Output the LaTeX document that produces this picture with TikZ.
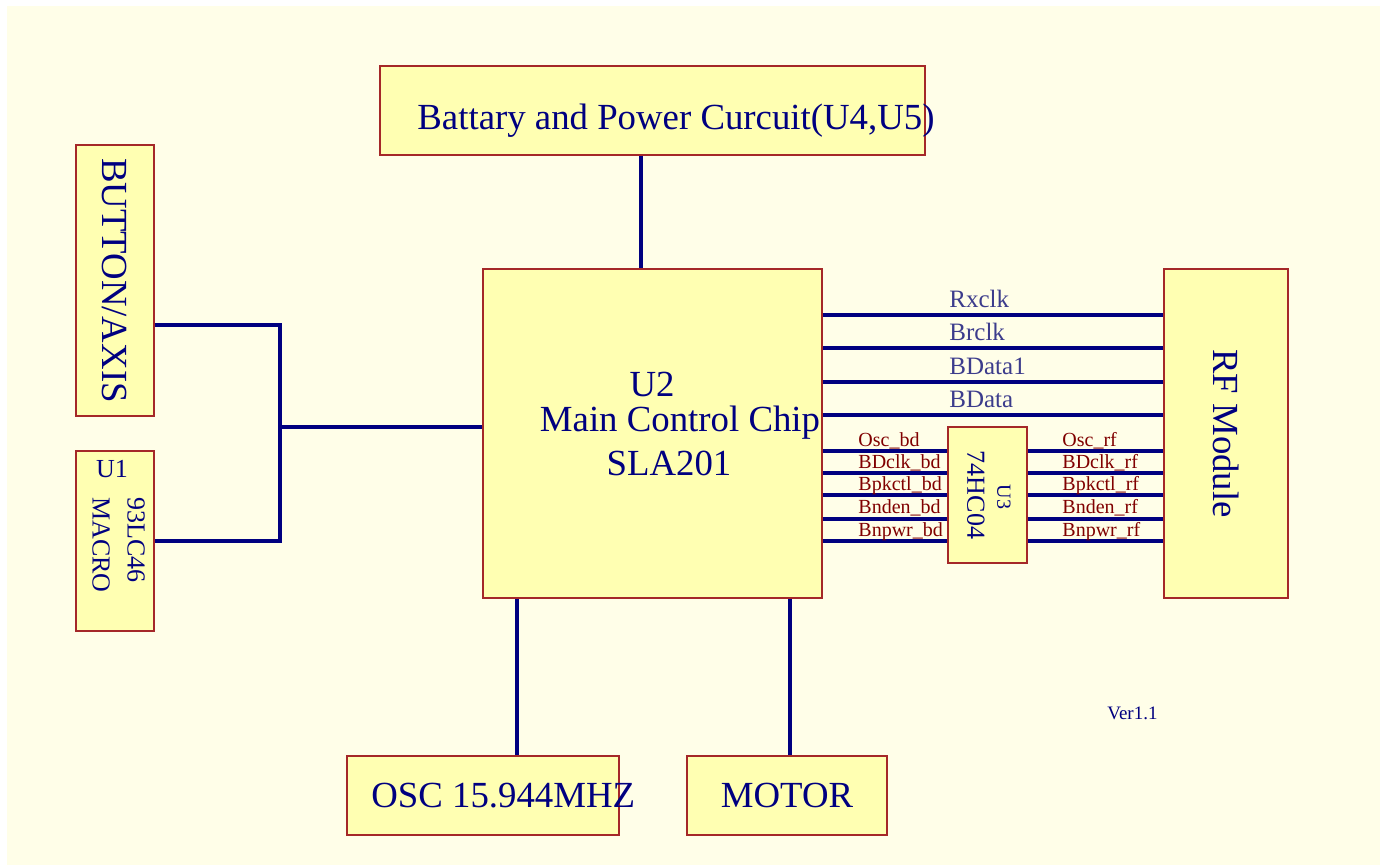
\documentclass[tikz,border=0pt]{standalone}
\usepackage{fontspec}
\setmainfont{Liberation Serif}
\usepackage{tikz}
\usetikzlibrary{positioning}
\definecolor{paper}{RGB}{255,254,232}
\definecolor{chipfill}{RGB}{255,255,178}
\definecolor{chipedge}{RGB}{165,40,40}
\definecolor{wire}{RGB}{0,0,128}
\definecolor{sigred}{RGB}{128,0,0}
\definecolor{sigblue}{RGB}{60,60,140}

\begin{document}
\begin{tikzpicture}[x=0.5pt,y=-0.5pt,
  blk/.style={draw=chipedge,fill=chipfill,line width=0.8pt,inner sep=0pt},
  txt/.style={text=wire,inner sep=0pt,font=\fontsize{18.4}{21}\selectfont},
  small/.style={text=wire,inner sep=0pt,font=\fontsize{13}{15}\selectfont},
  bus/.style={draw=wire,line width=2pt},
  sig/.style={text=sigblue,inner sep=0pt,anchor=base west,font=\fontsize{12.5}{15}\selectfont},
  pin/.style={text=sigred,inner sep=0pt,anchor=base west,font=\fontsize{10}{12}\selectfont}
]
\useasboundingbox (0,0) rectangle (1380,865);
\fill[paper] (7,6) rectangle (1380,865);

\node[blk,minimum width=272.5pt,minimum height=44.5pt] (batt) at (652.5,110.5) {};
\node[blk,txt,rotate=-90,minimum width=135.5pt,minimum height=39pt] (button) at (115,280.5) {BUTTON/AXIS};
\node[blk,minimum width=39pt,minimum height=90pt] (eeprom) at (115,541) {};
\node[blk,minimum width=169.5pt,minimum height=164.5pt] (chip) at (652.5,433.5) {};
\node[blk,minimum width=39.5pt,minimum height=68pt] (inv) at (987.5,495) {};
\node[blk,txt,rotate=-90,minimum width=164.5pt,minimum height=62pt] (rf) at (1226,433.5) {RF Module};
\node[blk,minimum width=136pt,minimum height=39.5pt] (osc) at (483,795.5) {};
\node[blk,txt,minimum width=100pt,minimum height=39.5pt] (motor) at (787,795.5) {MOTOR};

\node[txt,anchor=base west] (batttxt) at (417,130) {Battary and Power Curcuit(U4,U5)};
\node[txt,anchor=base] (u2txt) at (652,397) {U2};
\node[txt,anchor=base] (chiptxt) at (680,432) {Main Control Chip};
\node[txt,anchor=base] (slatxt) at (669,475) {SLA201};
\node[small] (u1txt) at (112,469) {U1};
\node[small,rotate=-90,anchor=west] (eepromtxt) at (136,497) {93LC46};
\node[small,rotate=-90,anchor=west] (macrotxt) at (101,497) {MACRO};
\node[txt,rotate=-90,font=\fontsize{10}{12}\selectfont] (u3txt) at (1004,497) {U3};
\node[small,rotate=-90] (invtxt) at (976,495) {74HC04};
\node[txt,anchor=base west] (osctxt) at (371,807) {OSC 15.944MHZ};
\node[txt,anchor=base west,font=\fontsize{9.5}{11}\selectfont] (ver) at (1107,719) {Ver1.1};

\draw[bus] (641,0 |- batt.south) -- (641,0 |- chip.north);
\coordinate (jn) at (280,427);
\draw[bus] (button.north |- 0,325) -| (jn) |- (eeprom.east |- 0,541);
\draw[bus] (jn) -- (chip.west |- jn);
\draw[bus] (517,0 |- chip.south) -- (517,0 |- osc.north);
\draw[bus] (790,0 |- chip.south) -- (790,0 |- motor.north);

\foreach \y/\s in {315/Rxclk,348/Brclk,382/BData1,415/BData}{
  \draw[bus] (chip.east |- 0,\y) -- (rf.south |- 0,\y);
  \node[sig] (lbl\s) at (949,\y-7) {\s};
}
\foreach \y/\s in {451/Osc,473/BDclk,495/Bpkctl,518.5/Bnden,541/Bnpwr}{
  \draw[bus] (chip.east |- 0,\y) -- (inv.west |- 0,\y);
  \draw[bus] (inv.east |- 0,\y) -- (rf.south |- 0,\y);
  \node[pin] (bd\s) at (858,\y-4.5) {\s\_bd};
  \node[pin] (rf\s) at (1062,\y-4.5) {\s\_rf};
}
\end{tikzpicture}
\end{document}
